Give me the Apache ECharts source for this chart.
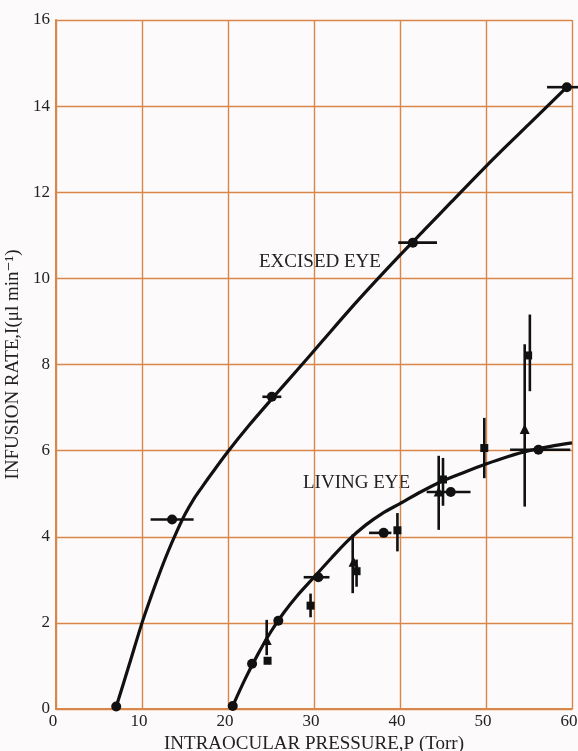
<!DOCTYPE html>
<html>
<head>
<meta charset="utf-8">
<script src="https://cdn.jsdelivr.net/npm/echarts@6/dist/echarts.min.js"></script>
<style>
html,body{margin:0;padding:0;background:#fcfafa;}
#chart{width:578px;height:751px;}
</style>
</head>
<body>
<div id="chart"></div>
<script>
// ---- Data ----
var xTicks = [0, 10, 20, 30, 40, 50, 60];
var yTicks = [0, 2, 4, 6, 8, 10, 12, 14, 16];

var excisedCurve = [[7,0.05],[8.5,1.02],[10,2.0],[11,2.58],[12,3.13],[13,3.64],[14,4.1],[15,4.52],[16,4.87],[17,5.16],[18,5.44],[20,5.98],[22.5,6.6],[25,7.18],[28,7.86],[31,8.55],[34,9.24],[37,9.9],[40,10.54],[43,11.16],[46,11.78],[49,12.4],[52,13.0],[55,13.58],[59.4,14.44]];
var excisedPoints = [[7,0.06],[13.5,4.4],[25.1,7.25],[41.5,10.83],[59.4,14.44]];
// horizontal error bars: [I, Plow, Phigh]
var excisedXErr = [[4.4,11.0,16.0],[7.25,24.0,26.2],[10.83,39.8,44.3],[14.44,57.1,60.7]];

// Living eye: fitted curve
var livingCurve = [[20.55,0.07],[22,0.7],[23.5,1.28],[25,1.8],[26.5,2.24],[28,2.62],[30,3.06],[32,3.5],[34,3.92],[36,4.27],[38,4.55],[40,4.77],[42.5,5.05],[45,5.3],[47.5,5.5],[50,5.69],[52.5,5.86],[55,6.0],[57.5,6.1],[60,6.18]];
// Living eye circles (P, I)
var livingCircles = [[20.55,0.07],[22.8,1.05],[25.85,2.05],[30.5,3.06],[38.1,4.09],[45.9,5.04],[56.1,6.02]];
var circleXErr = [[3.06,28.8,31.8],[4.09,36.4,39.0],[5.04,43.1,48.2],[6.02,52.8,59.8]];
// Living eye squares
var livingSquares = [[24.6,1.12],[29.6,2.4],[34.95,3.2],[39.7,4.15],[45.0,5.33],[49.8,6.06],[54.9,8.21]];
// vertical error bars: [P, Ilow, Ihigh]
var squareYErr = [[29.6,2.13,2.68],[34.95,2.84,3.47],[39.7,3.66,4.55],[45.0,4.72,5.83],[49.8,5.36,6.76],[55.1,7.38,9.16]];
// Living eye triangles
var livingTriangles = [[24.5,1.6],[34.6,3.42],[44.5,5.05],[54.5,6.5]];
var triangleYErr = [[24.5,1.25,2.07],[34.5,2.69,4.05],[44.5,4.16,5.88],[54.5,4.7,8.47]];

var FONT = '"Liberation Serif", "DejaVu Serif", serif';
var GRID = '#d9864a';
var INK = '#111';

function xErrSeries(data) {
  return {
    type: 'custom', data: data, z: 4, clip: false,
    renderItem: function (params, api) {
      var a = api.coord([api.value(1), api.value(0)]);
      var b = api.coord([api.value(2), api.value(0)]);
      return {type: 'line', shape: {x1: a[0], y1: a[1], x2: b[0], y2: b[1]},
              style: {stroke: INK, lineWidth: 2.6}};
    }
  };
}
function yErrSeries(data) {
  return {
    type: 'custom', data: data, z: 4, clip: false,
    renderItem: function (params, api) {
      var a = api.coord([api.value(0), api.value(1)]);
      var b = api.coord([api.value(0), api.value(2)]);
      return {type: 'line', shape: {x1: a[0], y1: a[1], x2: b[0], y2: b[1]},
              style: {stroke: INK, lineWidth: 2.6}};
    }
  };
}
function markers(data, symbol, size) {
  return {type: 'scatter', data: data, symbol: symbol, symbolSize: size, z: 5,
          itemStyle: {color: INK, opacity: 1}};
}

var chart = echarts.init(document.getElementById('chart'), null, {renderer: 'canvas'});
chart.setOption({
  backgroundColor: '#fcfafa',
  animation: false,
  grid: {left: 56, right: 6, top: 20, bottom: 42, containLabel: false, outerBoundsMode: 'none'},
  xAxis: {
    type: 'value', min: xTicks[0], max: xTicks[xTicks.length - 1], interval: 10,
    name: 'INTRAOCULAR PRESSURE,P (Torr)', nameLocation: 'middle', nameGap: 25,
    nameTextStyle: {fontFamily: FONT, fontSize: 19, color: '#222'},
    axisLine: {show: true, lineStyle: {color: GRID, width: 2}},
    axisTick: {show: false},
    axisLabel: {fontFamily: FONT, fontSize: 17, color: '#222', margin: 4, padding: [0, 6, 0, 0]},
    splitLine: {show: true, lineStyle: {color: GRID, width: 1.4}}
  },
  yAxis: {
    type: 'value', min: yTicks[0], max: yTicks[yTicks.length - 1], interval: 2,
    name: 'INFUSION RATE,I(\u03bcl min\u207b\u00b9)', nameLocation: 'middle', nameGap: 16,
    nameTextStyle: {fontFamily: FONT, fontSize: 19, color: '#222'},
    axisLine: {show: true, lineStyle: {color: GRID, width: 2}},
    axisTick: {show: false},
    axisLabel: {fontFamily: FONT, fontSize: 17, color: '#222', margin: 6},
    splitLine: {show: true, lineStyle: {color: GRID, width: 1.4}}
  },
  graphic: [
    {type: 'text', left: 259, top: 253, style: {text: 'EXCISED EYE', font: '19px ' + FONT, fill: '#222'}},
    {type: 'text', left: 303, top: 474, style: {text: 'LIVING EYE', font: '19px ' + FONT, fill: '#222'}}
  ],
  series: [
    {type: 'line', data: excisedCurve, smooth: 0.3, showSymbol: false, z: 3,
     lineStyle: {color: INK, width: 3.2}},
    {type: 'line', data: livingCurve, smooth: 0.3, showSymbol: false, z: 3,
     lineStyle: {color: INK, width: 3.2}},
    xErrSeries(excisedXErr),
    xErrSeries(circleXErr),
    yErrSeries(squareYErr),
    yErrSeries(triangleYErr),
    markers(excisedPoints, 'circle', 10),
    markers(livingCircles, 'circle', 10),
    markers(livingSquares, 'rect', 8),
    markers(livingTriangles, 'triangle', 10)
  ]
});
</script>
</body>
</html>
